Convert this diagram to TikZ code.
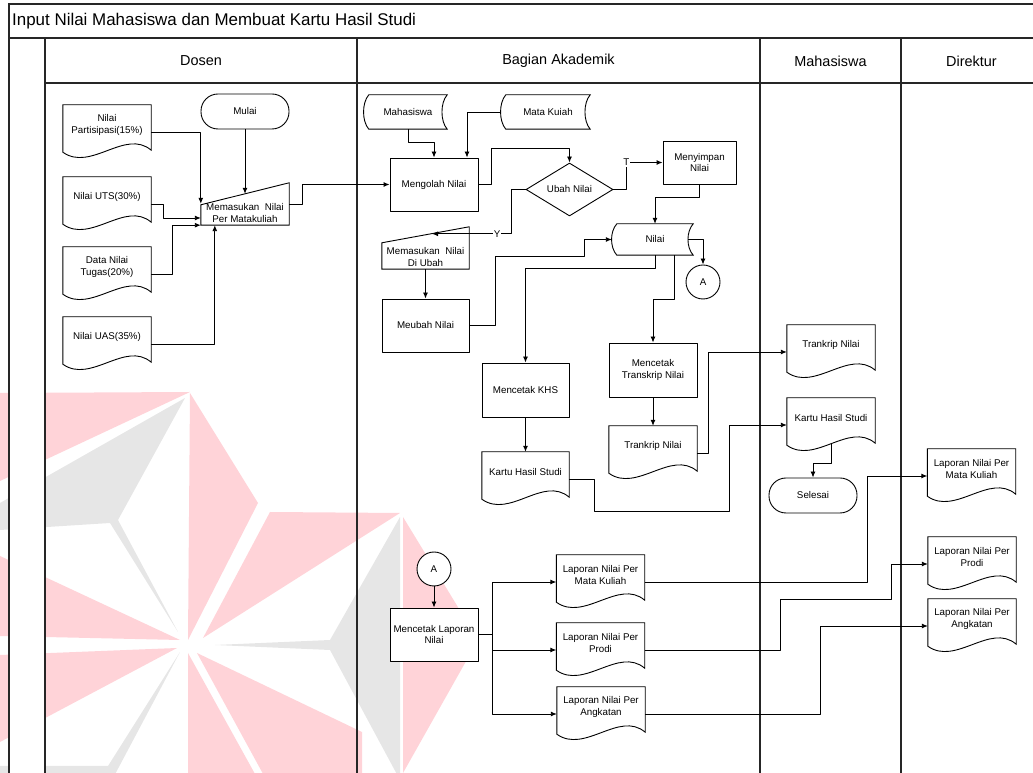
\documentclass[tikz,border=0pt]{standalone}
\usepackage{fontspec}
\setmainfont{Liberation Sans}
\usetikzlibrary{shapes.geometric,arrows.meta}
\pgfdeclarelayer{background}
\pgfsetlayers{background,main}
\definecolor{wmpink}{RGB}{255,211,216}
\definecolor{wmgrey}{RGB}{230,230,230}
\newcommand{\boxfont}{\fontsize{9.8}{11.5}\selectfont}
% outlines go under the node text
\newcommand{\docshape}[1]{\begin{pgfonlayer}{background}
  \draw[shapeline,fill=white] (#1.north west) -- (#1.north east) -- ([yshift=-5bp]#1.south east)
    .. controls ([xshift=-26bp,yshift=17bp]#1.south east) and ([xshift=28bp,yshift=-27bp]#1.south west)
    .. ([yshift=-7bp]#1.south west) -- cycle;
  \end{pgfonlayer}}
\newcommand{\storeshape}[1]{\begin{pgfonlayer}{background}
  \draw[shapeline,fill=white] (#1.north west) -- (#1.north east)
    .. controls ([xshift=-7bp,yshift=-8bp]#1.north east) and ([xshift=-7bp,yshift=8bp]#1.south east) .. (#1.south east)
    -- (#1.south west)
    .. controls ([xshift=-7bp,yshift=8bp]#1.south west) and ([xshift=-7bp,yshift=-8bp]#1.north west) .. cycle;
  \end{pgfonlayer}}
\newcommand{\maninshape}[3]{\begin{pgfonlayer}{background}
  \draw[shapeline,fill=white] (#1.south west) -- ([yshift=#2]#1.north west) -- ([yshift=#3]#1.north east) -- (#1.south east) -- cycle;
  \end{pgfonlayer}}
\begin{document}
\begin{tikzpicture}[>={Latex[length=6bp,width=5bp]},line join=bevel,
  shapeline/.style={draw=black,line width=0.9bp},
  proc/.style={shapeline,fill=white,minimum width=88bp,minimum height=53bp,inner sep=2bp,align=center,font=\boxfont},
  term/.style={proc,rounded corners=17bp,minimum height=35bp},
  doc/.style={minimum width=88bp,minimum height=40bp,inner sep=2bp,align=center,font=\boxfont},
  store/.style={minimum width=80bp,minimum height=34bp,inner sep=2bp,align=center,font=\boxfont},
  manin/.style={minimum width=88bp,minimum height=24bp,inner sep=1bp,align=center,font=\boxfont},
  decision/.style={diamond,shapeline,fill=white,minimum width=87bp,minimum height=53bp,inner sep=0bp,font=\boxfont},
  conn/.style={circle,shapeline,fill=white,minimum size=34bp,inner sep=0bp,font=\boxfont},
  lbl/.style={fill=white,inner sep=1bp,font=\boxfont},
  lane/.style={line width=1.3bp,draw=black!85},
  wire/.style={->,line width=0.9bp},
]
\useasboundingbox (0bp,0bp) rectangle (1033bp,773bp);
%%
\begin{pgfonlayer}{background}
% watermark
\fill[wmpink] (0bp,380bp) -- (190bp,381bp) -- (0bp,292bp) -- cycle;
\fill[wmgrey] (0bp,270bp) -- (185bp,375bp) -- (118bp,253bp) -- (178bp,141bp) -- (110bp,250bp) -- (0bp,243bp) -- cycle;
\fill[wmpink] (190bp,380bp) -- (258bp,270bp) -- (188bp,133bp) -- cycle;
\fill[wmpink] (270bp,261bp) -- (400bp,260bp) -- (203bp,135bp) -- cycle;
\fill[wmgrey] (400bp,256bp) -- (330bp,133bp) -- (215bp,128bp) -- (330bp,123bp) -- (400bp,-7bp) -- cycle;
\fill[wmpink] (403bp,256bp) -- (478bp,133bp) -- (403bp,0bp) -- cycle;
\fill[wmpink] (0bp,217bp) -- (180bp,133bp) -- (0bp,137bp) -- cycle;
\fill[wmpink] (0bp,118bp) -- (177bp,125bp) -- (0bp,31bp) -- cycle;
\fill[wmgrey] (180bp,121bp) -- (108bp,7bp) -- (0bp,7bp) -- (0bp,-7bp) -- (112bp,-7bp) -- cycle;
\fill[wmpink] (188bp,120bp) -- (260bp,-10bp) -- (188bp,-10bp) -- cycle;
\fill[wmpink] (197bp,120bp) -- (362bp,41bp) -- (362bp,-10bp) -- (268bp,-10bp) -- cycle;
\fill[white] (9bp,-10bp) rectangle (45bp,735bp);
% pool and lanes
\draw[lane] (9bp,-10bp) -- (9bp,769bp) -- (1045bp,769bp);
\draw[lane] (9bp,735bp) -- (1045bp,735bp);
\draw[lane] (45bp,690bp) -- (1045bp,690bp);
\foreach \lx in {45,357,760,901}
  \draw[lane] (\lx bp,735bp) -- (\lx bp,-10bp);
\end{pgfonlayer}
\node (judul) at (12bp,752bp) [anchor=west,inner sep=0bp,font=\fontsize{17}{20}\selectfont] {Input Nilai Mahasiswa dan Membuat Kartu Hasil Studi};
\node (hdosen) at (201bp,712bp) [font=\fontsize{14.5}{17}\selectfont] {Dosen};
\node (hbagian) at (558.5bp,712bp) [font=\fontsize{14.5}{17}\selectfont] {Bagian Akademik};
\node (hmhs) at (830.5bp,712bp) [font=\fontsize{14.5}{17}\selectfont] {Mahasiswa};
\node (hdir) at (971.5bp,712bp) [font=\fontsize{14.5}{17}\selectfont] {Direktur};
%
\node (mulai) at (245bp,661.5bp) [term] {Mulai};
  \node (partisipasi) at (107bp,648bp) [doc] {Nilai\\Partisipasi(15\%)};
  \node (uts) at (107bp,576bp) [doc] {Nilai UTS(30\%)};
  \node (tugas) at (107bp,506bp) [doc] {Data Nilai\\Tugas(20\%)};
  \node (uas) at (107bp,436bp) [doc] {Nilai UAS(35\%)};
  \node (masuk) at (245bp,560bp) [manin] {Memasukan~ Nilai\\Per Matakuliah};
  \node (mahasiswa) at (408bp,661bp) [store,minimum width=78bp] {Mahasiswa};
  \node (matakuiah) at (548bp,661bp) [store,minimum width=84bp] {Mata Kuiah};
  \node (mengolah) at (434bp,588.5bp) [proc] {Mengolah Nilai};
  \node (ubah) at (569.5bp,583.5bp) [decision] {Ubah Nilai};
  \node (menyimpan) at (699.5bp,610.5bp) [proc,minimum width=73bp,minimum height=43bp] {Menyimpan\\Nilai};
  \node (masukubah) at (425.5bp,516bp) [manin,minimum width=87bp] {Memasukan~ Nilai\\Di Ubah};
  \node (nilai) at (655bp,533.5bp) [store,minimum width=76bp,minimum height=31bp] {Nilai};
  \node (conA1) at (703bp,491bp) [conn] {A};
  \node (meubah) at (425.5bp,447.5bp) [proc,minimum width=87bp] {Meubah Nilai};
  \node (cetakkhs) at (525.5bp,383bp) [proc,minimum width=87bp,minimum height=54bp] {Mencetak KHS};
  \node (kartu1) at (525.5bp,301bp) [doc,minimum width=87bp] {Kartu Hasil Studi};
  \node (cetaktrans) at (653bp,403bp) [proc,minimum height=54bp] {Mencetak\\Transkrip Nilai};
  \node (trans1) at (653bp,327bp) [doc] {Trankrip Nilai};
  \node (trans2) at (831bp,428bp) [doc] {Trankrip Nilai};
  \node (kartu2) at (831bp,355bp) [doc] {Kartu Hasil Studi};
  \node (selesai) at (813bp,277.5bp) [term] {Selesai};
  \node (lapmk2) at (971.5bp,304bp) [doc] {Laporan Nilai Per\\Mata Kuliah};
  \node (lapprodi2) at (972bp,216bp) [doc] {Laporan Nilai Per\\Prodi};
  \node (lapangk2) at (972bp,154bp) [doc] {Laporan Nilai Per\\Angkatan};
  \node (conA2) at (434bp,204bp) [conn] {A};
  \node (cetaklap) at (434bp,138.5bp) [proc] {Mencetak Laporan\\Nilai};
  \node (lapmk1) at (600.5bp,198bp) [doc] {Laporan Nilai Per\\Mata Kuliah};
  \node (lapprodi1) at (600.5bp,130bp) [doc] {Laporan Nilai Per\\Prodi};
  \node (lapangk1) at (601bp,66bp) [doc] {Laporan Nilai Per\\Angkatan};
%
\foreach \d in {partisipasi,uts,tugas,uas,kartu1,trans1,trans2,kartu2,lapmk2,lapprodi2,lapangk2,lapmk1,lapprodi1,lapangk1}
  {\docshape{\d}}
\storeshape{mahasiswa}
\storeshape{matakuiah}
\storeshape{nilai}
\maninshape{masuk}{-4bp}{18bp}
\maninshape{masukubah}{2bp}{18bp}
%
\coordinate (masuktop) at ([yshift=7bp]masuk.north);
\coordinate (masuknw) at ([yshift=-3bp]masuk.north west);
\coordinate (masukwest) at ([yshift=-5bp]masuk.west);
\coordinate (masukbot) at ([xshift=14bp]masuk.south west);
\coordinate (masukout) at ([yshift=9bp]masuk.east);
\coordinate (mengolahin) at ([xshift=33bp]mengolah.north);
\coordinate (ubahup) at ([yshift=14bp]ubah.north);
\coordinate (masukubahtop) at ([xshift=6.5bp,yshift=11bp]masukubah.north);
\coordinate (nilaibot) at ([xshift=19bp]nilai.south);
%
  \draw [wire] (mulai) -- (masuktop);
  \draw [wire] ([yshift=-7bp]partisipasi.east) -| (masuknw);
  \draw [wire] ([yshift=-7bp]uts.east) -- ++(12bp,0) |- (masukwest);
  \draw [wire] ([yshift=-7bp]tugas.east) -- ++(21bp,0) |- (masuk.south west);
  \draw [wire] ([yshift=-7bp]uas.east) -| (masukbot);
  \draw [wire] (masukout) -- ++(13bp,0) |- (mengolah.west);
  \draw [wire] (mahasiswa.south) -- ++(0,-13bp) -| (mengolah.north);
  \draw [wire] ([xshift=-5bp]matakuiah.west) -| (mengolahin);
  \draw [wire] (mengolah.east) -- ++(13bp,0) |- (ubahup) -- (ubah.north);
  \draw [wire] (ubah.east) -- ++(13bp,0) |- node[lbl] {T} (menyimpan.west);
  \draw [wire] (ubah.west) -- ++(-14bp,0) |- node[lbl,pos=0.59] {Y} (masukubahtop);
  \draw [wire] (masukubah) -- (meubah);
  \draw [wire] (menyimpan.south) -- ++(0,-13bp) -| (nilai.north);
  \draw [wire] (meubah.east) -- ++(26bp,0) -- ++(0,69bp) -- ++(89bp,0) |- ([xshift=-5bp]nilai.west);
  \draw [wire] ([xshift=-5bp]nilai.east) -| (conA1.north);
  \draw [wire] (nilai.south) -- ++(0,-13bp) -| (cetakkhs.north);
  \draw [wire] (nilaibot) -- ++(0,-44bp) -| (cetaktrans.north);
  \draw [wire] (cetakkhs) -- (kartu1);
  \draw [wire] (cetaktrans) -- (trans1);
  \draw [wire] ([yshift=-7bp]trans1.east) -- ++(11bp,0) |- ([yshift=-7bp]trans2.west);
  \draw [wire] ([yshift=-7bp]kartu1.east) -- ++(25bp,0) -- ++(0,-32bp) -- ++(135bp,0) |- ([yshift=-7bp]kartu2.west);
  \draw [wire] ([yshift=-5bp]kartu2.south) -- ++(0,-20bp) -| (selesai.north);
  \draw [wire] (conA2) -- (cetaklap);
  \draw [wire] (cetaklap.east) -- ++(14bp,0) |- ([yshift=-7bp]lapmk1.west);
  \draw [wire] (cetaklap.east) -- ++(14bp,0) |- ([yshift=-7bp]lapprodi1.west);
  \draw [wire] (cetaklap.east) -- ++(14bp,0) |- ([yshift=-7bp]lapangk1.west);
  \draw [wire] ([yshift=-7bp]lapmk1.east) -- ++(223bp,0) |- ([yshift=-7bp]lapmk2.west);
  \draw [wire] ([yshift=-7bp]lapprodi1.east) -- ++(136bp,0) -- ++(0,51bp) -- ++(111bp,0) |- ([yshift=-7bp]lapprodi2.west);
  \draw [wire] ([yshift=-7bp]lapangk1.east) -- ++(175bp,0) |- ([yshift=-7bp]lapangk2.west);
%
\end{tikzpicture}
\end{document}
